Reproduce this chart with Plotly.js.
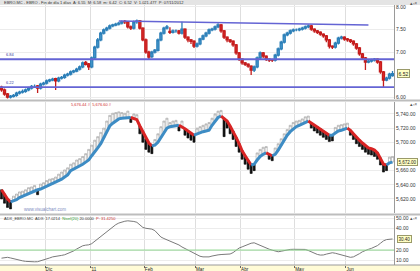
<!DOCTYPE html>
<html><head><meta charset="utf-8">
<script src="https://cdn.plot.ly/plotly-3.0.1.min.js"></script>
<style>html,body{margin:0;padding:0;background:#fff;}#chart{width:420px;height:271px;}</style>
</head><body><div id="chart"></div>
<script>
// ---- DATA ----
const priceOpen = [6.22,6.16,6.07,6.00,6.02,6.04,6.09,6.11,6.13,6.16,
 6.20,6.24,6.25,6.20,6.29,6.31,6.36,6.38,6.41,6.36,
 6.42,6.44,6.49,6.51,6.56,6.58,6.62,6.67,6.77,6.74,
 6.67,6.87,7.11,7.27,7.42,7.49,7.53,7.58,7.60,7.62,
 7.64,7.68,7.67,7.56,7.53,7.67,7.69,7.53,7.27,7.00,
 6.90,7.00,7.04,7.27,7.42,7.53,7.46,7.44,7.47,7.47,
 7.42,7.51,7.33,7.27,7.24,7.13,7.18,7.29,7.36,7.42,
 7.49,7.51,7.56,7.60,7.47,7.33,7.27,7.24,7.16,6.98,
 6.84,6.76,6.73,6.69,6.60,6.67,6.87,6.98,6.91,6.84,
 6.83,6.82,6.93,7.07,7.22,7.38,7.42,7.47,7.49,7.49,
 7.51,7.53,7.56,7.58,7.51,7.47,7.44,7.40,7.36,7.27,
 7.13,7.11,7.20,7.31,7.33,7.29,7.27,7.24,7.18,7.09,
 6.96,6.87,6.78,6.80,6.82,6.84,6.78,6.56,6.38,6.42,
 6.48];
const priceHigh = [6.25,6.19,6.09,6.05,6.07,6.12,6.14,6.17,6.19,6.23,
 6.27,6.28,6.27,6.32,6.34,6.39,6.41,6.43,6.43,6.45,
 6.47,6.52,6.54,6.59,6.61,6.65,6.70,6.79,6.80,6.76,
 6.90,7.14,7.31,7.45,7.52,7.56,7.61,7.63,7.65,7.67,
 7.70,7.71,7.69,7.59,7.70,7.72,7.71,7.55,7.30,7.03,
 7.03,7.07,7.30,7.45,7.56,7.60,7.55,7.50,7.50,7.49,
 7.67,7.53,7.35,7.29,7.26,7.21,7.32,7.39,7.45,7.52,
 7.54,7.59,7.64,7.62,7.49,7.35,7.29,7.26,7.18,7.00,
 6.86,6.78,6.75,6.71,6.70,6.90,7.01,7.00,6.93,6.86,
 6.85,6.96,7.10,7.25,7.41,7.45,7.50,7.52,7.52,7.54,
 7.56,7.59,7.61,7.60,7.53,7.49,7.46,7.42,7.38,7.29,
 7.15,7.23,7.34,7.36,7.35,7.31,7.29,7.26,7.20,7.11,
 6.98,6.89,6.83,6.85,6.87,6.86,6.80,6.58,6.45,6.54,
 6.58];
const priceLow = [6.12,6.03,5.97,5.97,5.99,6.01,6.06,6.08,6.10,6.13,
 6.17,6.20,6.09,6.17,6.26,6.28,6.33,6.35,6.16,6.33,
 6.39,6.41,6.46,6.48,6.53,6.55,6.59,6.64,6.70,6.60,
 6.64,6.84,7.08,7.24,7.39,7.46,7.50,7.55,7.57,7.59,
 7.61,7.62,7.52,7.49,7.50,7.63,7.50,7.24,6.96,6.84,
 6.87,6.97,7.01,7.24,7.39,7.50,7.40,7.41,7.43,7.39,
 7.39,7.29,7.22,7.18,7.09,7.10,7.15,7.26,7.33,7.39,
 7.46,7.48,7.53,7.43,7.29,7.22,7.20,7.12,6.94,6.80,
 6.72,6.69,6.65,6.49,6.56,6.64,6.84,6.87,6.80,6.78,
 6.78,6.79,6.90,7.04,7.19,7.35,7.39,7.44,7.46,7.46,
 7.48,7.50,7.53,7.47,7.43,7.40,7.36,7.32,7.22,7.08,
 7.07,7.08,7.17,7.28,7.25,7.23,7.20,7.14,7.05,6.92,
 6.83,6.60,6.75,6.77,6.79,6.74,6.52,6.22,6.35,6.39,
 6.45];
const priceClose = [6.16,6.07,6.00,6.02,6.04,6.09,6.11,6.13,6.16,6.20,
 6.24,6.24,6.20,6.29,6.31,6.36,6.38,6.40,6.36,6.42,
 6.44,6.49,6.51,6.56,6.58,6.62,6.67,6.76,6.73,6.67,
 6.87,7.11,7.27,7.42,7.49,7.53,7.58,7.60,7.62,7.64,
 7.67,7.67,7.56,7.53,7.67,7.69,7.53,7.27,7.00,6.89,
 7.00,7.04,7.27,7.42,7.53,7.56,7.44,7.47,7.47,7.42,
 7.51,7.33,7.27,7.24,7.13,7.18,7.29,7.36,7.42,7.49,
 7.51,7.56,7.60,7.47,7.33,7.27,7.24,7.16,6.98,6.84,
 6.76,6.73,6.69,6.60,6.67,6.87,6.98,6.91,6.84,6.82,
 6.82,6.93,7.07,7.22,7.38,7.42,7.47,7.49,7.49,7.51,
 7.53,7.56,7.58,7.51,7.47,7.44,7.40,7.36,7.27,7.13,
 7.11,7.20,7.31,7.33,7.29,7.27,7.24,7.18,7.09,6.96,
 6.87,6.78,6.80,6.82,6.84,6.78,6.56,6.38,6.42,6.51,
 6.52];
const midLine = [5633,5627,5620,5616,5617,5619,5622,5624,5626,5628,
 5629,5631,5633,5634,5636,5638,5640,5641,5643,5645,
 5648,5651,5654,5660,5662,5665,5667,5669,5672,5675,
 5681,5686,5692,5698,5706,5715,5723,5727,5730,5733,
 5734,5734,5735,5735,5734,5732,5723,5715,5705,5699,
 5695,5696,5700,5707,5715,5720,5722,5723,5723,5724,
 5722,5719,5716,5713,5710,5712,5713,5715,5716,5717,
 5724,5730,5735,5737,5734,5730,5723,5716,5707,5698,
 5688,5681,5674,5668,5669,5675,5680,5683,5685,5683,
 5681,5683,5689,5696,5703,5710,5715,5719,5722,5724,
 5726,5729,5730,5727,5724,5722,5719,5716,5713,5710,
 5710,5713,5716,5717,5719,5720,5717,5712,5707,5703,
 5699,5695,5692,5691,5689,5685,5678,5669,5668,5671,
 5672];
const midBar = [5620,5614,5608,5606,5624,5627,5630,5631,5633,5636,
 5637,5639,5626,5641,5643,5646,5648,5649,5651,5655,
 5658,5661,5664,5669,5671,5675,5677,5680,5684,5690,
 5696,5703,5708,5714,5720,5730,5738,5741,5742,5743,
 5742,5741,5744,5728,5740,5739,5712,5700,5690,5686,
 5684,5704,5712,5722,5730,5734,5728,5730,5731,5716,
 5730,5710,5706,5703,5700,5720,5722,5724,5726,5728,
 5734,5740,5744,5745,5708,5720,5712,5704,5694,5686,
 5676,5669,5662,5656,5660,5685,5690,5693,5694,5676,
 5674,5692,5698,5705,5712,5718,5724,5728,5730,5731,
 5733,5736,5737,5720,5716,5713,5710,5707,5704,5701,
 5702,5721,5724,5725,5726,5727,5710,5704,5698,5694,
 5690,5686,5683,5682,5680,5676,5668,5658,5660,5679,
 5680];
const adxValues = [12.4,13.0,13.2,12.6,11.8,11.0,10.4,9.9,9.4,9.1,
 9.0,9.0,9.1,9.8,10.8,11.6,12.6,13.6,13.9,14.3,
 15.0,15.6,16.6,17.8,19.2,21.0,22.8,24.0,24.6,24.9,
 26.0,28.2,30.6,32.8,35.2,37.6,40.0,42.0,43.8,45.3,
 46.3,47.0,47.4,47.2,46.8,46.0,43.6,41.2,40.4,40.0,
 39.6,38.2,35.0,32.2,30.8,29.6,28.6,27.9,26.6,24.8,
 22.9,21.5,19.8,18.2,16.8,15.6,14.2,13.6,13.4,13.6,
 14.4,15.3,15.5,15.8,16.0,16.1,16.3,17.6,19.8,21.9,
 23.0,24.2,25.4,26.4,26.8,25.6,23.9,22.6,21.6,20.8,
 19.9,19.0,18.4,18.9,19.6,20.2,20.6,20.7,20.8,20.9,
 20.9,20.6,19.6,18.3,17.0,15.9,15.3,15.4,16.2,17.0,
 17.5,17.0,16.2,15.3,14.4,13.7,13.2,13.6,14.9,16.6,
 18.4,19.9,20.7,21.6,22.9,24.2,26.4,28.6,29.8,30.2,
 30.4];
const supportLevels = [6.84, 6.22];
const trendIdx = [39, 122];
const trendPrice = [7.69, 7.60];
const adxLevel = 20;
const monthStartIdx = [15, 30, 48, 65, 80, 98, 115];
const monthLabels = ["Dic", "'11", "Feb", "Mar", "Abr", "May", "Jun"];
const priceTicks = [6.0, 6.5, 7.0, 7.5, 8.0];
const midTicks = [5620, 5640, 5660, 5680, 5700, 5720, 5740];
const adxTicks = [10, 20, 30, 40, 50];

// ---- BUILD ----
const n = priceClose.length;
const idx = priceClose.map((_, i) => i);
const fmtThousands = v => v.toLocaleString('en-US', {minimumFractionDigits: 2, maximumFractionDigits: 2});
// a tick label hidden behind the last-value box (as in the reference) is left blank
const hideNear = (ticks, last, tol, fmt) => ticks.map(t => Math.abs(t - last) < tol ? '' : fmt(t));

const traces = [];
traces.push({
  type: 'candlestick', x: idx, open: priceOpen, high: priceHigh, low: priceLow, close: priceClose,
  xaxis: 'x', yaxis: 'y', whiskerwidth: 0, hoverinfo: 'skip',
  increasing: {line: {color: '#2c7fb8', width: 1.3}, fillcolor: '#4a9fd2'},
  decreasing: {line: {color: '#c41c1c', width: 1.3}, fillcolor: '#e02a2a'}
});
traces.push({
  type: 'scatter', mode: 'lines', x: trendIdx, y: trendPrice, xaxis: 'x', yaxis: 'y',
  line: {color: '#6464d4', width: 1.6}, hoverinfo: 'skip'
});
traces.push({
  type: 'candlestick', x: idx, open: midLine, close: midBar,
  high: midLine.map((v, i) => Math.max(v, midBar[i])), low: midLine.map((v, i) => Math.min(v, midBar[i])),
  xaxis: 'x', yaxis: 'y2', whiskerwidth: 0, hoverinfo: 'skip',
  increasing: {line: {color: '#8a8a8a', width: 0.5}, fillcolor: '#ffffff'},
  decreasing: {line: {color: '#111111', width: 0.6}, fillcolor: '#111111'}
});
let cur = null, curDir = null;
const segs = [];
for (let i = 1; i < n; i++) {
  const dir = midLine[i] >= midLine[i - 1];
  if (dir !== curDir) { cur = {x: [idx[i - 1]], y: [midLine[i - 1]], dir}; segs.push(cur); curDir = dir; }
  cur.x.push(idx[i]); cur.y.push(midLine[i]);
}
segs.forEach(s => traces.push({
  type: 'scatter', mode: 'lines', x: s.x, y: s.y, xaxis: 'x', yaxis: 'y2',
  line: {color: s.dir ? '#3d8cc4' : '#d82424', width: 3}, hoverinfo: 'skip'
}));
traces.push({
  type: 'scatter', mode: 'lines', x: idx, y: adxValues, xaxis: 'x', yaxis: 'y3',
  line: {color: '#7a7a7a', width: 1}, hoverinfo: 'skip'
});

const px2py = p => (265 - p) / 260;
const shapes = [
  {type: 'rect', xref: 'paper', yref: 'paper', x0: -0.01, x1: 1.07, y0: px2py(5), y1: px2py(0), fillcolor: '#e4e4e4', line: {width: 0}, layer: 'below'},
  {type: 'rect', xref: 'paper', yref: 'paper', x0: -0.01, x1: 1.07, y0: px2py(101.6), y1: px2py(99.4), fillcolor: '#bdbdbd', line: {width: 0}},
  {type: 'rect', xref: 'paper', yref: 'paper', x0: -0.01, x1: 1.07, y0: px2py(215.6), y1: px2py(213.4), fillcolor: '#bdbdbd', line: {width: 0}},
  {type: 'rect', xref: 'paper', yref: 'paper', x0: -0.01, x1: 1.07, y0: px2py(272), y1: px2py(265), fillcolor: '#fffbd6', line: {width: 0}, layer: 'below'},
  {type: 'line', xref: 'paper', yref: 'paper', x0: -0.01, x1: 1.07, y0: 0, y1: 0, line: {color: '#9a9a9a', width: 1}},
  {type: 'line', xref: 'paper', yref: 'y3', x0: 0, x1: 1, y0: adxLevel, y1: adxLevel, line: {color: '#8fd88f', width: 1}}
];
supportLevels.forEach(l => shapes.push({type: 'line', xref: 'paper', yref: 'y', x0: 0, x1: 1, y0: l, y1: l, line: {color: '#6464d4', width: 1.8}}));

const small = (s, c) => ({size: s, color: c, family: 'Liberation Sans, Arial, sans-serif'});
const annotations = [
  {xref: 'paper', yref: 'paper', x: 0.004, y: px2py(2.6), xanchor: 'left', yanchor: 'middle', showarrow: false,
   text: 'EBRO.MC - EBRO - Fin de día 1 días  A: 6.55  M: 6.58  m: 6.42  C: 6.52  V: 1.021.477  P: 07/11/2012', font: small(4, '#333')},
  {xref: 'paper', yref: 'paper', x: 0.055, y: px2py(209), xanchor: 'left', yanchor: 'middle', showarrow: false,
   text: 'www.visualchart.com', font: small(4.5, '#7d8cc2')},
  {xref: 'paper', yref: 'paper', x: 0.176, y: px2py(105), xanchor: 'left', yanchor: 'middle', showarrow: false,
   text: '5,676.44 #  5,676.60 #', font: small(4, '#d03030')},
  {xref: 'paper', yref: 'paper', x: 0.006, y: px2py(218.5), xanchor: 'left', yanchor: 'middle', showarrow: false,
   text: 'ADX_EBRO.MC  ADX: 17.0214  <span style="color:#2a9a2a">Nivel(20)</span> 20.0000  <span style="color:#c83030">P: 31.4250</span>', font: small(4, '#333')},
  {xref: 'paper', yref: 'paper', x: 1.035, y: px2py(3), xanchor: 'left', yanchor: 'middle', showarrow: false, text: '▴▫×', font: small(4.5, '#555')},
  {xref: 'paper', yref: 'paper', x: 1.035, y: px2py(104.5), xanchor: 'left', yanchor: 'middle', showarrow: false, text: '▴▫×', font: small(4.5, '#555')},
  {xref: 'paper', yref: 'paper', x: 1.035, y: px2py(218.5), xanchor: 'left', yanchor: 'middle', showarrow: false, text: '▴▫×', font: small(4.5, '#555')},
  {xref: 'paper', yref: 'y', x: 1.008, y: priceClose[n - 1], xanchor: 'left', yanchor: 'middle', showarrow: false,
   text: priceClose[n - 1].toFixed(2), font: small(5, '#222'), bgcolor: '#ffffc4', bordercolor: '#9a9a6a', borderwidth: 1, borderpad: 0.5},
  {xref: 'paper', yref: 'y2', x: 1.008, y: midLine[n - 1], xanchor: 'left', yanchor: 'middle', showarrow: false,
   text: fmtThousands(midLine[n - 1]), font: small(4.5, '#222'), bgcolor: '#ffffc4', bordercolor: '#9a9a6a', borderwidth: 1, borderpad: 0.5},
  {xref: 'paper', yref: 'y3', x: 1.008, y: adxValues[n - 1], xanchor: 'left', yanchor: 'middle', showarrow: false,
   text: adxValues[n - 1].toFixed(2), font: small(4.5, '#222'), bgcolor: '#ffffc4', bordercolor: '#9a9a6a', borderwidth: 1, borderpad: 0.5}
];
supportLevels.forEach(l => annotations.push({xref: 'paper', yref: 'y', x: 0.01, y: l, xanchor: 'left', yanchor: 'bottom',
  showarrow: false, text: l.toFixed(2), font: small(4, '#3a3aa0')}));

const yCommon = {side: 'right', showline: true, linecolor: '#9a9a9a', linewidth: 1, ticks: '', zeroline: false,
  showgrid: true, gridcolor: '#ececec', gridwidth: 1, tickfont: small(5, '#333'), automargin: false, fixedrange: true};

const layout = {
  width: 420, height: 271, margin: {l: 0, r: 26, t: 5, b: 6, pad: 0},
  paper_bgcolor: '#ffffff', plot_bgcolor: '#ffffff', showlegend: false, boxgap: 0.02,
  font: small(5, '#333'), hovermode: false,
  xaxis: {range: [-0.5, n - 0.5], anchor: 'y3', tickvals: monthStartIdx.map(k => k - 0.5), ticktext: monthLabels,
    ticks: 'outside', ticklen: 2, tickcolor: '#666', tickfont: small(4.6, '#222'), ticklabelposition: 'outside right',
    ticklabelstandoff: -1,
    showgrid: true, gridcolor: '#dedede', gridwidth: 1, zeroline: false, showline: false,
    rangeslider: {visible: false}, automargin: false, fixedrange: true},
  yaxis: Object.assign({}, yCommon, {domain: [0.638, 1], range: [5.956, 8.044], tickvals: priceTicks,
    ticktext: hideNear(priceTicks, priceClose[n - 1], 0.1, v => v.toFixed(2))}),
  yaxis2: Object.assign({}, yCommon, {domain: [0.2, 0.627], range: [5600.2, 5756.9], tickvals: midTicks,
    ticktext: hideNear(midTicks, midLine[n - 1], 10, fmtThousands)}),
  yaxis3: Object.assign({}, yCommon, {domain: [0, 0.188], range: [6, 51.8], tickvals: adxTicks,
    ticktext: hideNear(adxTicks, adxValues[n - 1], 3, v => v.toFixed(2))}),
  shapes: shapes, annotations: annotations
};

Plotly.newPlot('chart', traces, layout, {displayModeBar: false, staticPlot: true});
</script></body></html>
